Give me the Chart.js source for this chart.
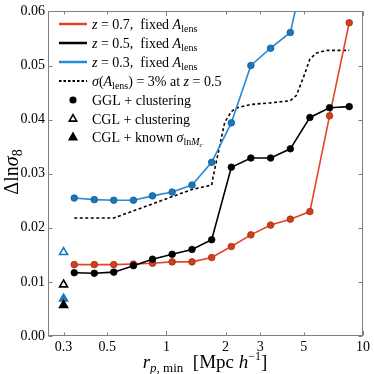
<!DOCTYPE html>
<html><head><meta charset="utf-8">
<script src="https://cdn.jsdelivr.net/npm/chart.js@4/dist/chart.umd.min.js"></script>
<style>html,body{margin:0;padding:0;background:#fff}canvas{display:block}</style>
</head><body>
<canvas id="c" width="374" height="374"></canvas>
<script>
// ---- data ----
const rpBins   = [0.34,0.43,0.54,0.68,0.85,1.07,1.35,1.70,2.14,2.69,3.39,4.27,5.37,6.76,8.51];
const sigmaZ07 = [0.0132,0.0132,0.0132,0.0133,0.01345,0.0137,0.0137,0.0145,0.01655,0.0187,0.0205,0.0216,0.0230,0.0407,0.0579];
const sigmaZ05 = [0.0117,0.0116,0.0118,0.0130,0.0142,0.0151,0.0160,0.0178,0.0312,0.0329,0.0329,0.0346,0.0404,0.0422,0.0424];
const sigmaZ03 = [0.0255,0.0252,0.0251,0.0251,0.0259,0.0266,0.0279,0.0321,0.0394,0.0500,0.0532,0.0561,0.0720];
const priorX   = [0.34,0.54,1.35,1.70,1.73,1.98,2.14,2.30,2.69,3.39,4.27,4.59,5.06,5.37,5.80,6.52,8.51];
const priorY   = [0.0218,0.0218,0.0271,0.0279,0.0295,0.0395,0.0415,0.0422,0.0428,0.0431,0.0435,0.0445,0.0485,0.0512,0.0523,0.0528,0.0528];
const cglX = 0.3;
const cglClustZ03 = 0.0155, cglClustZ05 = 0.0095;
const cglKnownZ03 = 0.0069, cglKnownZ05 = 0.0057;
const xTicks = [0.3,0.5,1,2,3,5,10];
const xTickLabels = ['0.3','0.5','1','2','3','5','10'];
const xMajor = [1,10];
const yTicks = [0,0.01,0.02,0.03,0.04,0.05,0.06];
const yTickLabels = ['0.00','0.01','0.02','0.03','0.04','0.05','0.06'];

const RED_LINE='#e4442a', RED_FILL='#d03e1c', RED_EDGE='#9e2f14';
const BLUE_LINE='#2a8ad4', BLUE_FILL='#1877bd', BLUE_EDGE='#11588e';
const FONT='"Liberation Serif", "DejaVu Serif", serif';

const pts = (xs, ys) => ys.map((y,i)=>({x:xs[i], y}));

function richText(ctx, x, y, parts, align){
  let w=0;
  for(const p of parts){ ctx.font=(p[2]?'italic ':'')+p[1]+'px '+FONT; w+=ctx.measureText(p[0]).width; }
  let cx = align==='center' ? x-w/2 : x;
  for(const p of parts){
    ctx.font=(p[2]?'italic ':'')+p[1]+'px '+FONT;
    ctx.fillText(p[0], cx, y+(p[3]||0));
    cx+=ctx.measureText(p[0]).width;
  }
}

const framePlugin = {
  id:'frame',
  afterDatasetsDraw(chart){
    const {ctx, chartArea:a, scales:{x, y}} = chart;
    ctx.save();
    ctx.strokeStyle='#808080'; ctx.lineWidth=1;
    const L=Math.round(a.left)+0.5, R=Math.round(a.right)-0.5, T=Math.round(a.top)+0.5, B=Math.round(a.bottom)-0.5;
    ctx.strokeRect(L, T, R-L, B-T);
    ctx.beginPath();
    for(const v of xTicks){
      const px=Math.round(x.getPixelForValue(v))+0.5;
      const len = xMajor.includes(v)?4.5:3;
      ctx.moveTo(px,B); ctx.lineTo(px,B-len);
      ctx.moveTo(px,T); ctx.lineTo(px,T+len);
    }
    for(const v of yTicks){
      const py=Math.round(y.getPixelForValue(v))+0.5;
      ctx.moveTo(L,py); ctx.lineTo(L+4,py);
      ctx.moveTo(R,py); ctx.lineTo(R-4,py);
    }
    ctx.stroke();
    ctx.restore();
  },
  afterDraw(chart){
    const ctx=chart.ctx;
    ctx.save();
    ctx.fillStyle='#000'; ctx.textBaseline='alphabetic';
    // legend
    const lx0=59, lx1=87, tx=92;
    const rows=[24,43,62,81,100,118.5,137];
    const lineCols=[RED_LINE,'#000',BLUE_LINE];
    for(let i=0;i<3;i++){
      ctx.strokeStyle=lineCols[i]; ctx.lineWidth=2.5;
      ctx.beginPath(); ctx.moveTo(lx0,rows[i]); ctx.lineTo(lx1,rows[i]); ctx.stroke();
    }
    ctx.strokeStyle='#000'; ctx.lineWidth=1.8; ctx.setLineDash([2.5,2]);
    ctx.beginPath(); ctx.moveTo(lx0,rows[3]); ctx.lineTo(lx1,rows[3]); ctx.stroke();
    ctx.setLineDash([]);
    const mx=73;
    ctx.beginPath(); ctx.arc(mx,rows[4],3.6,0,Math.PI*2); ctx.fill();
    const tri=(cx,cy,r)=>{ctx.beginPath();ctx.moveTo(cx,cy-r);ctx.lineTo(cx+r*0.866,cy+r*0.5);ctx.lineTo(cx-r*0.866,cy+r*0.5);ctx.closePath();};
    ctx.lineWidth=1.6; tri(mx,rows[5]+0.5,4.3); ctx.stroke();
    tri(mx,rows[6]+0.5,4.3); ctx.fill(); ctx.stroke();
    const b=5, S=14, s=10;
    const zs=['0.7','0.5','0.3'];
    for(let i=0;i<3;i++){
      richText(ctx,tx,rows[i]+b,[['z',S,true],[' = '+zs[i]+',  fixed ',S,false],['A',S,true],['lens',s,false,3]]);
    }
    richText(ctx,tx,rows[3]+b,[['σ',S,true],['(',S,false],['A',S,true],['lens',s,false,3],[') = 3% at ',S,false],['z',S,true],[' = 0.5',S,false]]);
    richText(ctx,tx,rows[4]+b,[['GGL + clustering',S,false]]);
    richText(ctx,tx,rows[5]+b,[['CGL + clustering',S,false]]);
    richText(ctx,tx,rows[6]+b,[['CGL + known ',S,false],['σ',S,true],['ln',s,false,3],['M',s,true,3],['c',7,true,5]]);
    // axis titles
    richText(ctx,205,368,[['r',19,true],['p',13,true,4],[', min',13,false,4],['  [Mpc ',19,false],['h',19,true],['−1',12,false,-8],[']',19,false]],'center');
    ctx.translate(18,172); ctx.rotate(-Math.PI/2);
    richText(ctx,0,0,[['Δ',20,false],['ln',20,false],['σ',20,true],['8',14,false,4]],'center');
    ctx.restore();
  }
};

const circleDs = (label, ys, line, fill, edge, order) => ({
  type:'line', label, data:pts(rpBins, ys), order,
  borderColor:line, borderWidth:1.6, tension:0,
  pointRadius:3.3, pointBackgroundColor:fill, pointBorderColor:edge, pointBorderWidth:0.8,
  pointHoverRadius:3.3
});
const triDs = (label, yv, color, filled, order) => ({
  type:'scatter', label, data:[{x:cglX, y:yv}], order, showLine:false,
  pointStyle:'triangle', pointRadius:4.6, pointBorderWidth:1.6,
  pointBorderColor:color, pointBackgroundColor: filled?color:'#ffffff'
});

new Chart(document.getElementById('c'), {
  data:{ datasets:[
    triDs('CGL known z=0.5', cglKnownZ05, '#000', true, 0),
    triDs('CGL known z=0.3', cglKnownZ03, BLUE_FILL, true, 1),
    triDs('CGL clust z=0.5', cglClustZ05, '#000', false, 2),
    triDs('CGL clust z=0.3', cglClustZ03, BLUE_FILL, false, 3),
    circleDs('z=0.3', sigmaZ03, BLUE_LINE, BLUE_FILL, BLUE_EDGE, 4),
    circleDs('z=0.5', sigmaZ05, '#000', '#000', '#000', 5),
    circleDs('z=0.7', sigmaZ07, RED_LINE, RED_FILL, RED_EDGE, 6),
    { type:'line', label:'prior', data:pts(priorX, priorY), order:7,
      borderColor:'#000', borderWidth:1.6, borderDash:[3,2.5], pointRadius:0, tension:0 }
  ]},
  options:{
    responsive:false, animation:false, devicePixelRatio:1,
    events:[],
    layout:{padding:{left:0, top:7, right:11, bottom:0}},
    plugins:{legend:{display:false}, tooltip:{enabled:false}},
    scales:{
      x:{ type:'logarithmic', min:0.25, max:10,
        grid:{display:false, drawTicks:false}, border:{display:false},
        afterBuildTicks:s=>{ s.ticks = xTicks.map(v=>({value:v})); },
        afterFit:s=>{ s.height = 38; },
        ticks:{ autoSkip:false, maxRotation:0, padding:3, color:'#000',
          font:{family:FONT, size:14},
          callback:(v)=>xTickLabels[xTicks.indexOf(v)] }
      },
      y:{ type:'linear', min:0, max:0.06,
        grid:{display:false, drawTicks:false}, border:{display:false},
        afterBuildTicks:s=>{ s.ticks = yTicks.map(v=>({value:v})); },
        afterFit:s=>{ s.width = 48; },
        ticks:{ padding:3, color:'#000', font:{family:FONT, size:14},
          callback:(v)=>yTickLabels[yTicks.indexOf(v)] }
      }
    }
  },
  plugins:[framePlugin]
});
</script>
</body></html>
